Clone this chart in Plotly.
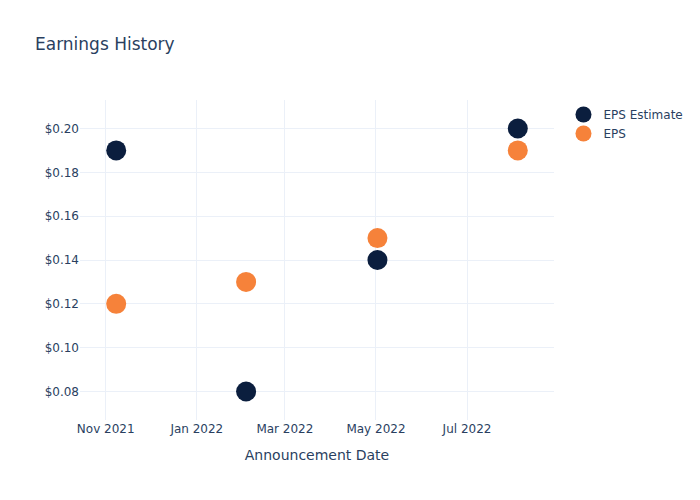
import plotly.graph_objects as go

dates = ["2021-11-08", "2022-02-03", "2022-05-02", "2022-08-04"]
eps_estimate = [0.19, 0.08, 0.14, 0.20]
eps_actual = [0.12, 0.13, 0.15, 0.19]

fig = go.Figure()
fig.add_trace(go.Scatter(x=dates, y=eps_estimate, mode="markers", name="EPS Estimate",
                         marker=dict(size=20, color="#0b1e3e")))
fig.add_trace(go.Scatter(x=dates, y=eps_actual, mode="markers", name="EPS",
                         marker=dict(size=20, color="#f6823a")))
fig.update_layout(
    template="plotly_white",
    width=700, height=500,
    font=dict(family="DejaVu Sans"),
    title=dict(text="Earnings History"),
    xaxis=dict(title="Announcement Date"),
    yaxis=dict(tickprefix="$", tickformat=".2f"),
)
fig.write_html("out.html")
